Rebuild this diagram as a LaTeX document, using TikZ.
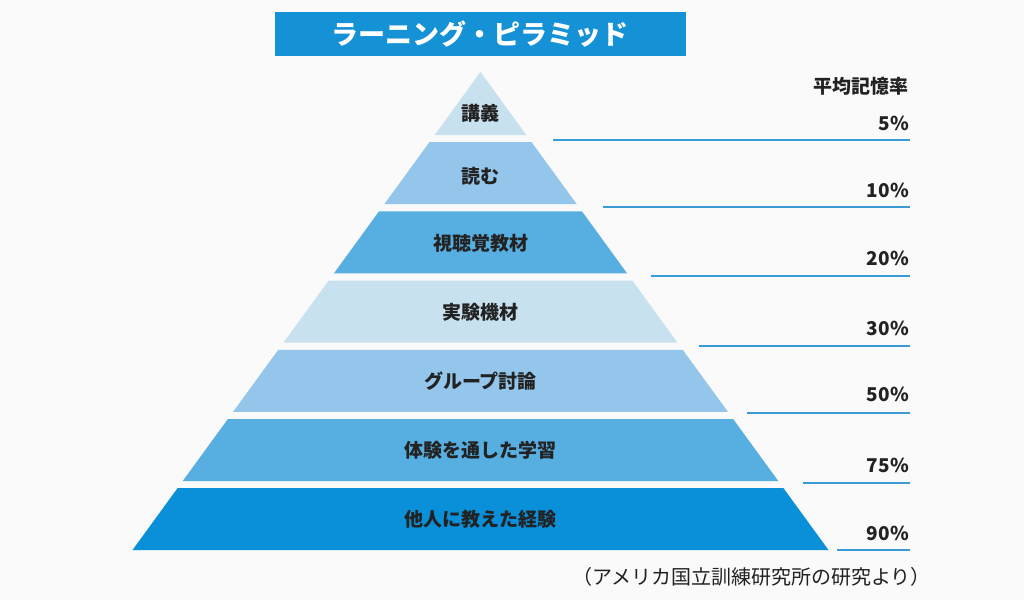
\documentclass[tikz,border=0pt]{standalone}
\usepackage{fontspec}
\setmainfont{Noto Sans CJK JP}
\newfontfamily\jp{Noto Sans CJK JP}
\definecolor{bgc}{HTML}{F9FAF9}
\definecolor{cA}{HTML}{C8E1EF}
\definecolor{cB}{HTML}{94C5EA}
\definecolor{cC}{HTML}{57AEE0}
\definecolor{cD}{HTML}{0A8FD9}
\definecolor{titlec}{HTML}{1591D6}
\definecolor{linec}{HTML}{3A9AD6}
\definecolor{txtc}{HTML}{222222}
\tikzset{
  lbl/.style={font=\jp\bfseries\fontsize{19}{21}\selectfont, text=txtc, inner sep=0pt},
  pct/.style={font=\jp\bfseries\fontsize{19}{21}\selectfont, text=txtc, anchor=east, inner sep=0pt},
  rline/.style={draw=linec, line width=2pt},
}
\begin{document}
\begin{tikzpicture}[x=1pt,y=-1pt]
\fill[bgc] (0,0) rectangle (1024,600);
\useasboundingbox (0,0) rectangle (1024,600);
% title
\node[fill=titlec, minimum width=411pt, minimum height=44pt, inner sep=0pt,
      text=white, font=\jp\bfseries\fontsize{27}{30}\selectfont] (title) at (480,34) {ラーニング・ピラミッド};
% pyramid bands
\foreach \i/\col/\ly/\txt in {0/cA/113/講義, 1/cB/176/読む, 2/cC/243/視聴覚教材, 3/cA/312/実験機材, 4/cB/381/グループ討論, 5/cC/450/体験を通した学習, 6/cD/519/他人に教えた経験} {
  \pgfmathsetmacro\b{135+69.2*\i}
  \pgfmathsetmacro\t{ifthenelse(\i==0,72,\b-62)}
  \pgfmathsetmacro\wt{0.728*(\t-72)}
  \pgfmathsetmacro\wb{0.728*(\b-72)}
  \fill[\col] (480.5-\wt,\t) -- (480.5+\wt,\t) -- (480.5+\wb,\b) -- (480.5-\wb,\b) -- cycle;
  \node[lbl] (band\i) at (480.5,\ly) {\txt};
}
% header
\node[pct] (head) at (909,86) {平均記憶率};
% percentages and lines
\foreach \i/\y/\xs/\py/\p in {0/140/553/123/5, 1/207/603/190/10, 2/276/651/258/20, 3/346/699/328/30, 4/413/747/394/50, 5/483/803/465/75, 6/550/837/533/90} {
  \coordinate (ls\i) at (\xs,\y);
  \coordinate (le\i) at (910,\y);
  \draw[rline] (ls\i) -- (le\i);
  \node[pct] (p\i) at (909,\py) {\p\%};
}
% footnote
\node[anchor=east, inner sep=0pt, text=txtc, font=\jp\fontsize{20}{22}\selectfont] (note) at (931,577) {（アメリカ国立訓練研究所の研究より）};
\end{tikzpicture}
\end{document}
